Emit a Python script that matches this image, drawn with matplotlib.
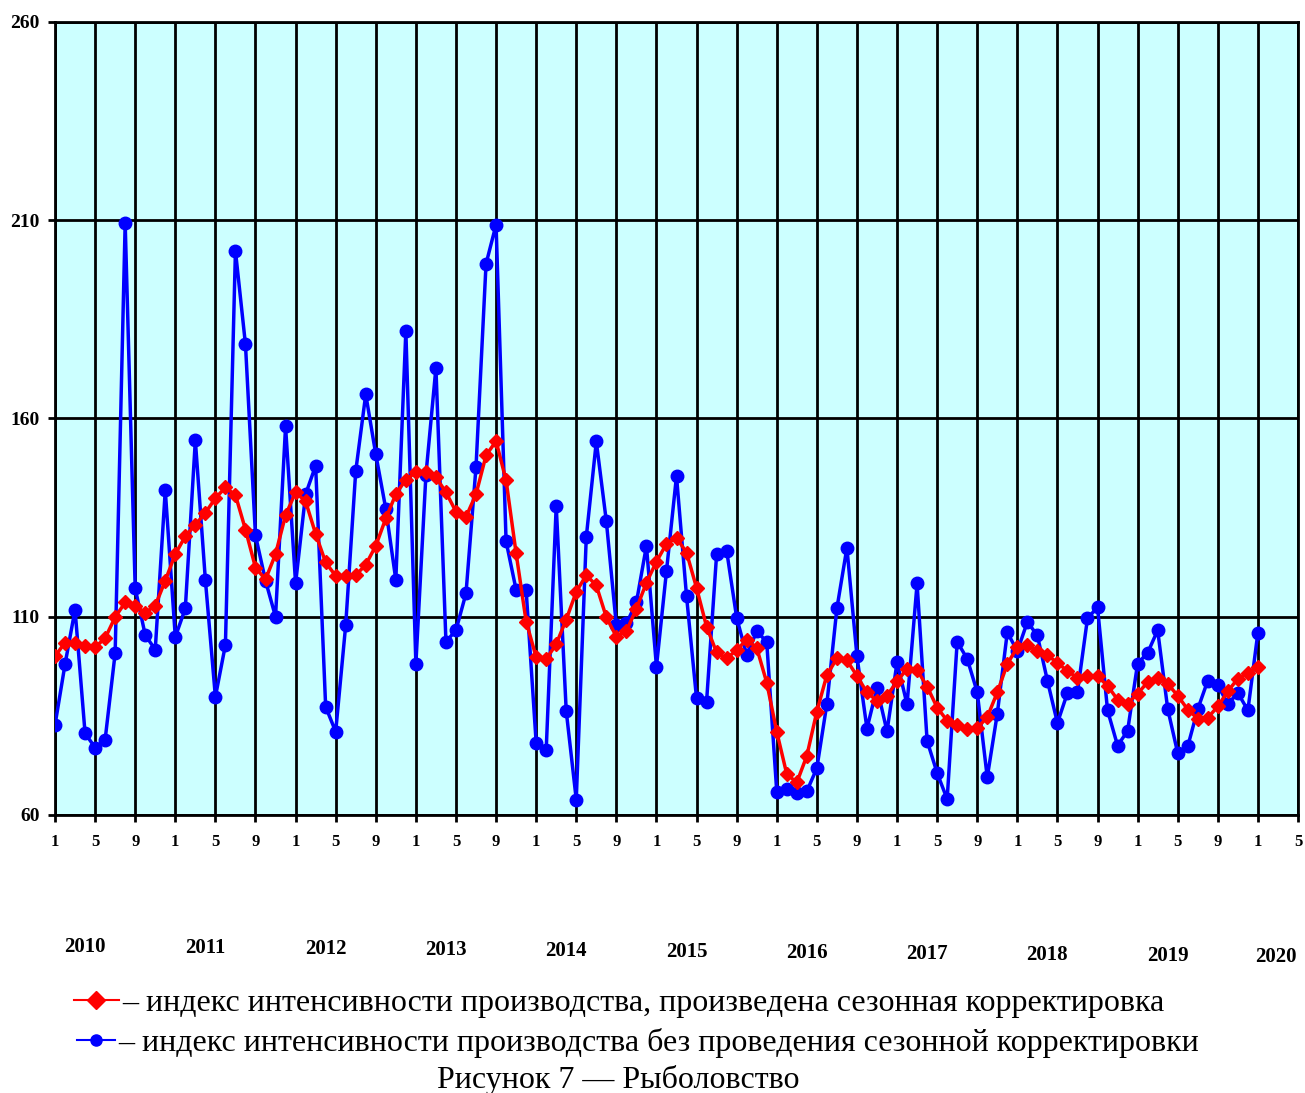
import numpy as np
import matplotlib
matplotlib.use('Agg')
import matplotlib.pyplot as plt
from matplotlib.lines import Line2D

plt.rcParams['font.family'] = ['Liberation Serif', 'DejaVu Serif']

# monthly index values, Jan 2010 .. Jan 2020
raw = [82.7, 98.0, 111.8, 80.6, 77.0, 79.0, 100.8, 209.3, 117.2, 105.4,
       101.7, 141.9, 104.9, 112.1, 154.5, 119.3, 89.8, 102.9, 202.3, 178.7,
       130.5, 119.1, 110.0, 158.0, 118.4, 140.9, 148.1, 87.3, 81.0, 107.9,
       146.7, 166.1, 151.0, 137.2, 119.3, 182.1, 98.1, 145.7, 172.8, 103.7,
       106.6, 115.9, 147.8, 199.0, 208.9, 129.0, 116.8, 116.7, 78.2, 76.3,
       138.0, 86.2, 63.9, 130.1, 154.2, 134.1, 107.8, 108.3, 113.6, 127.9,
       97.4, 121.5, 145.5, 115.2, 89.4, 88.6, 125.7, 126.7, 109.8, 100.3,
       106.3, 103.7, 65.9, 66.5, 65.5, 66.0, 71.8, 88.0, 112.1, 127.4,
       100.1, 81.8, 92.1, 81.1, 98.5, 87.9, 118.4, 78.7, 70.6, 64.0,
       103.7, 99.4, 91.0, 69.5, 85.5, 106.1, 101.3, 108.7, 105.3, 93.9,
       83.2, 90.8, 91.0, 109.6, 112.4, 86.4, 77.5, 81.2, 98.2, 100.9,
       106.6, 86.8, 75.6, 77.3, 86.7, 93.9, 92.7, 88.0, 90.8, 86.4,
       106.0]

adjusted = [100.0, 103.5, 103.5, 102.5, 102.3, 104.6, 109.9, 113.6, 112.8, 111.0,
            112.8, 119.1, 125.8, 130.3, 133.2, 136.2, 139.9, 142.6, 140.7, 132.0,
            122.4, 119.4, 125.8, 135.6, 141.4, 139.1, 130.9, 123.7, 120.3, 120.3,
            120.5, 123.1, 127.9, 134.8, 140.9, 144.6, 146.4, 146.6, 145.2, 141.4,
            136.5, 135.2, 140.9, 150.7, 154.3, 144.4, 126.0, 108.8, 99.8, 99.3,
            103.1, 109.3, 116.3, 120.5, 117.9, 109.9, 105.0, 106.4, 112.0, 118.6,
            123.9, 128.4, 129.9, 126.2, 117.3, 107.5, 101.0, 99.5, 101.6, 104.2,
            102.2, 93.4, 81.0, 70.3, 68.2, 74.9, 86.1, 95.3, 99.5, 99.0,
            95.1, 90.9, 88.8, 90.1, 93.7, 96.9, 96.6, 92.4, 87.1, 83.8,
            82.7, 81.7, 81.9, 84.7, 90.9, 98.1, 102.3, 102.8, 101.3, 100.3,
            98.4, 96.3, 94.6, 95.0, 95.0, 92.6, 89.1, 88.1, 90.6, 93.5,
            94.6, 93.1, 90.1, 86.6, 84.3, 84.5, 87.4, 91.2, 94.4, 95.8,
            97.3]

years = ['2010', '2011', '2012', '2013', '2014', '2015', '2016', '2017', '2018', '2019', '2020']
month_labels = ['1', '5', '9']
y_ticks = [60, 110, 160, 210, 260]

label_adj = '– индекс интенсивности производства, произведена сезонная корректировка'
label_raw = '– индекс интенсивности производства без проведения сезонной корректировки'
caption = 'Рисунок 7 — Рыболовство'

x = np.arange(len(raw))

fig = plt.figure(figsize=(13.05, 10.93), dpi=100)
ax = fig.add_axes([55/1305, 1 - 815/1093, 1243/1305, 793/1093])
ax.set_facecolor('#ccffff')

ax.plot(x, raw, color='#0000ff', lw=2.5, marker='o', ms=9, zorder=3)
ax.plot(x, adjusted, color='#ff0000', lw=2.5, marker='D', ms=7.5, zorder=4)

ax.set_xlim(0, 124)
ax.set_ylim(60, 260)
xt = np.arange(0, 125, 4)
ax.set_xticks(xt)
ax.set_xticklabels([month_labels[k % 3] for k in range(len(xt))])
ax.set_yticks(y_ticks)
ax.set_yticklabels([str(v) for v in y_ticks])
ax.tick_params(axis='both', direction='out', length=5, width=2, color='black')
ax.tick_params(axis='x', pad=9, labelsize=12)
ax.tick_params(axis='y', pad=6, labelsize=14)
for lab in ax.get_xticklabels() + ax.get_yticklabels():
    lab.set_fontweight('bold')

ax.grid(True, color='black', lw=2)
ax.set_axisbelow(True)
for s in ax.spines.values():
    s.set_linewidth(2)

# year labels under the month ticks
for k, yr in enumerate(years):
    xpos = min(12 * k + 3.0, 121.8)
    ax.text(xpos, -0.166 - 0.0013 * k, yr, transform=ax.get_xaxis_transform(),
            ha='center', va='center', fontsize=15, fontweight='bold')

h_adj = Line2D([], [], color='#ff0000', lw=1.5, marker='D', ms=9)
h_raw = Line2D([], [], color='#0000ff', lw=1.5, marker='o', ms=8)
fig.legend([h_adj], [label_adj], loc='center', bbox_to_anchor=(619/1305, 1 - 1003/1093),
           frameon=False, fontsize=23, handlelength=1.4, handletextpad=0.1)
fig.legend([h_raw], [label_raw], loc='center', bbox_to_anchor=(638/1305, 1 - 1043/1093),
           frameon=False, fontsize=23, handlelength=1.2, handletextpad=0.1)
fig.text(618/1305, 1 - 1080/1093, caption, ha='center', va='center', fontsize=23)

fig.savefig('out.png', dpi=100)
